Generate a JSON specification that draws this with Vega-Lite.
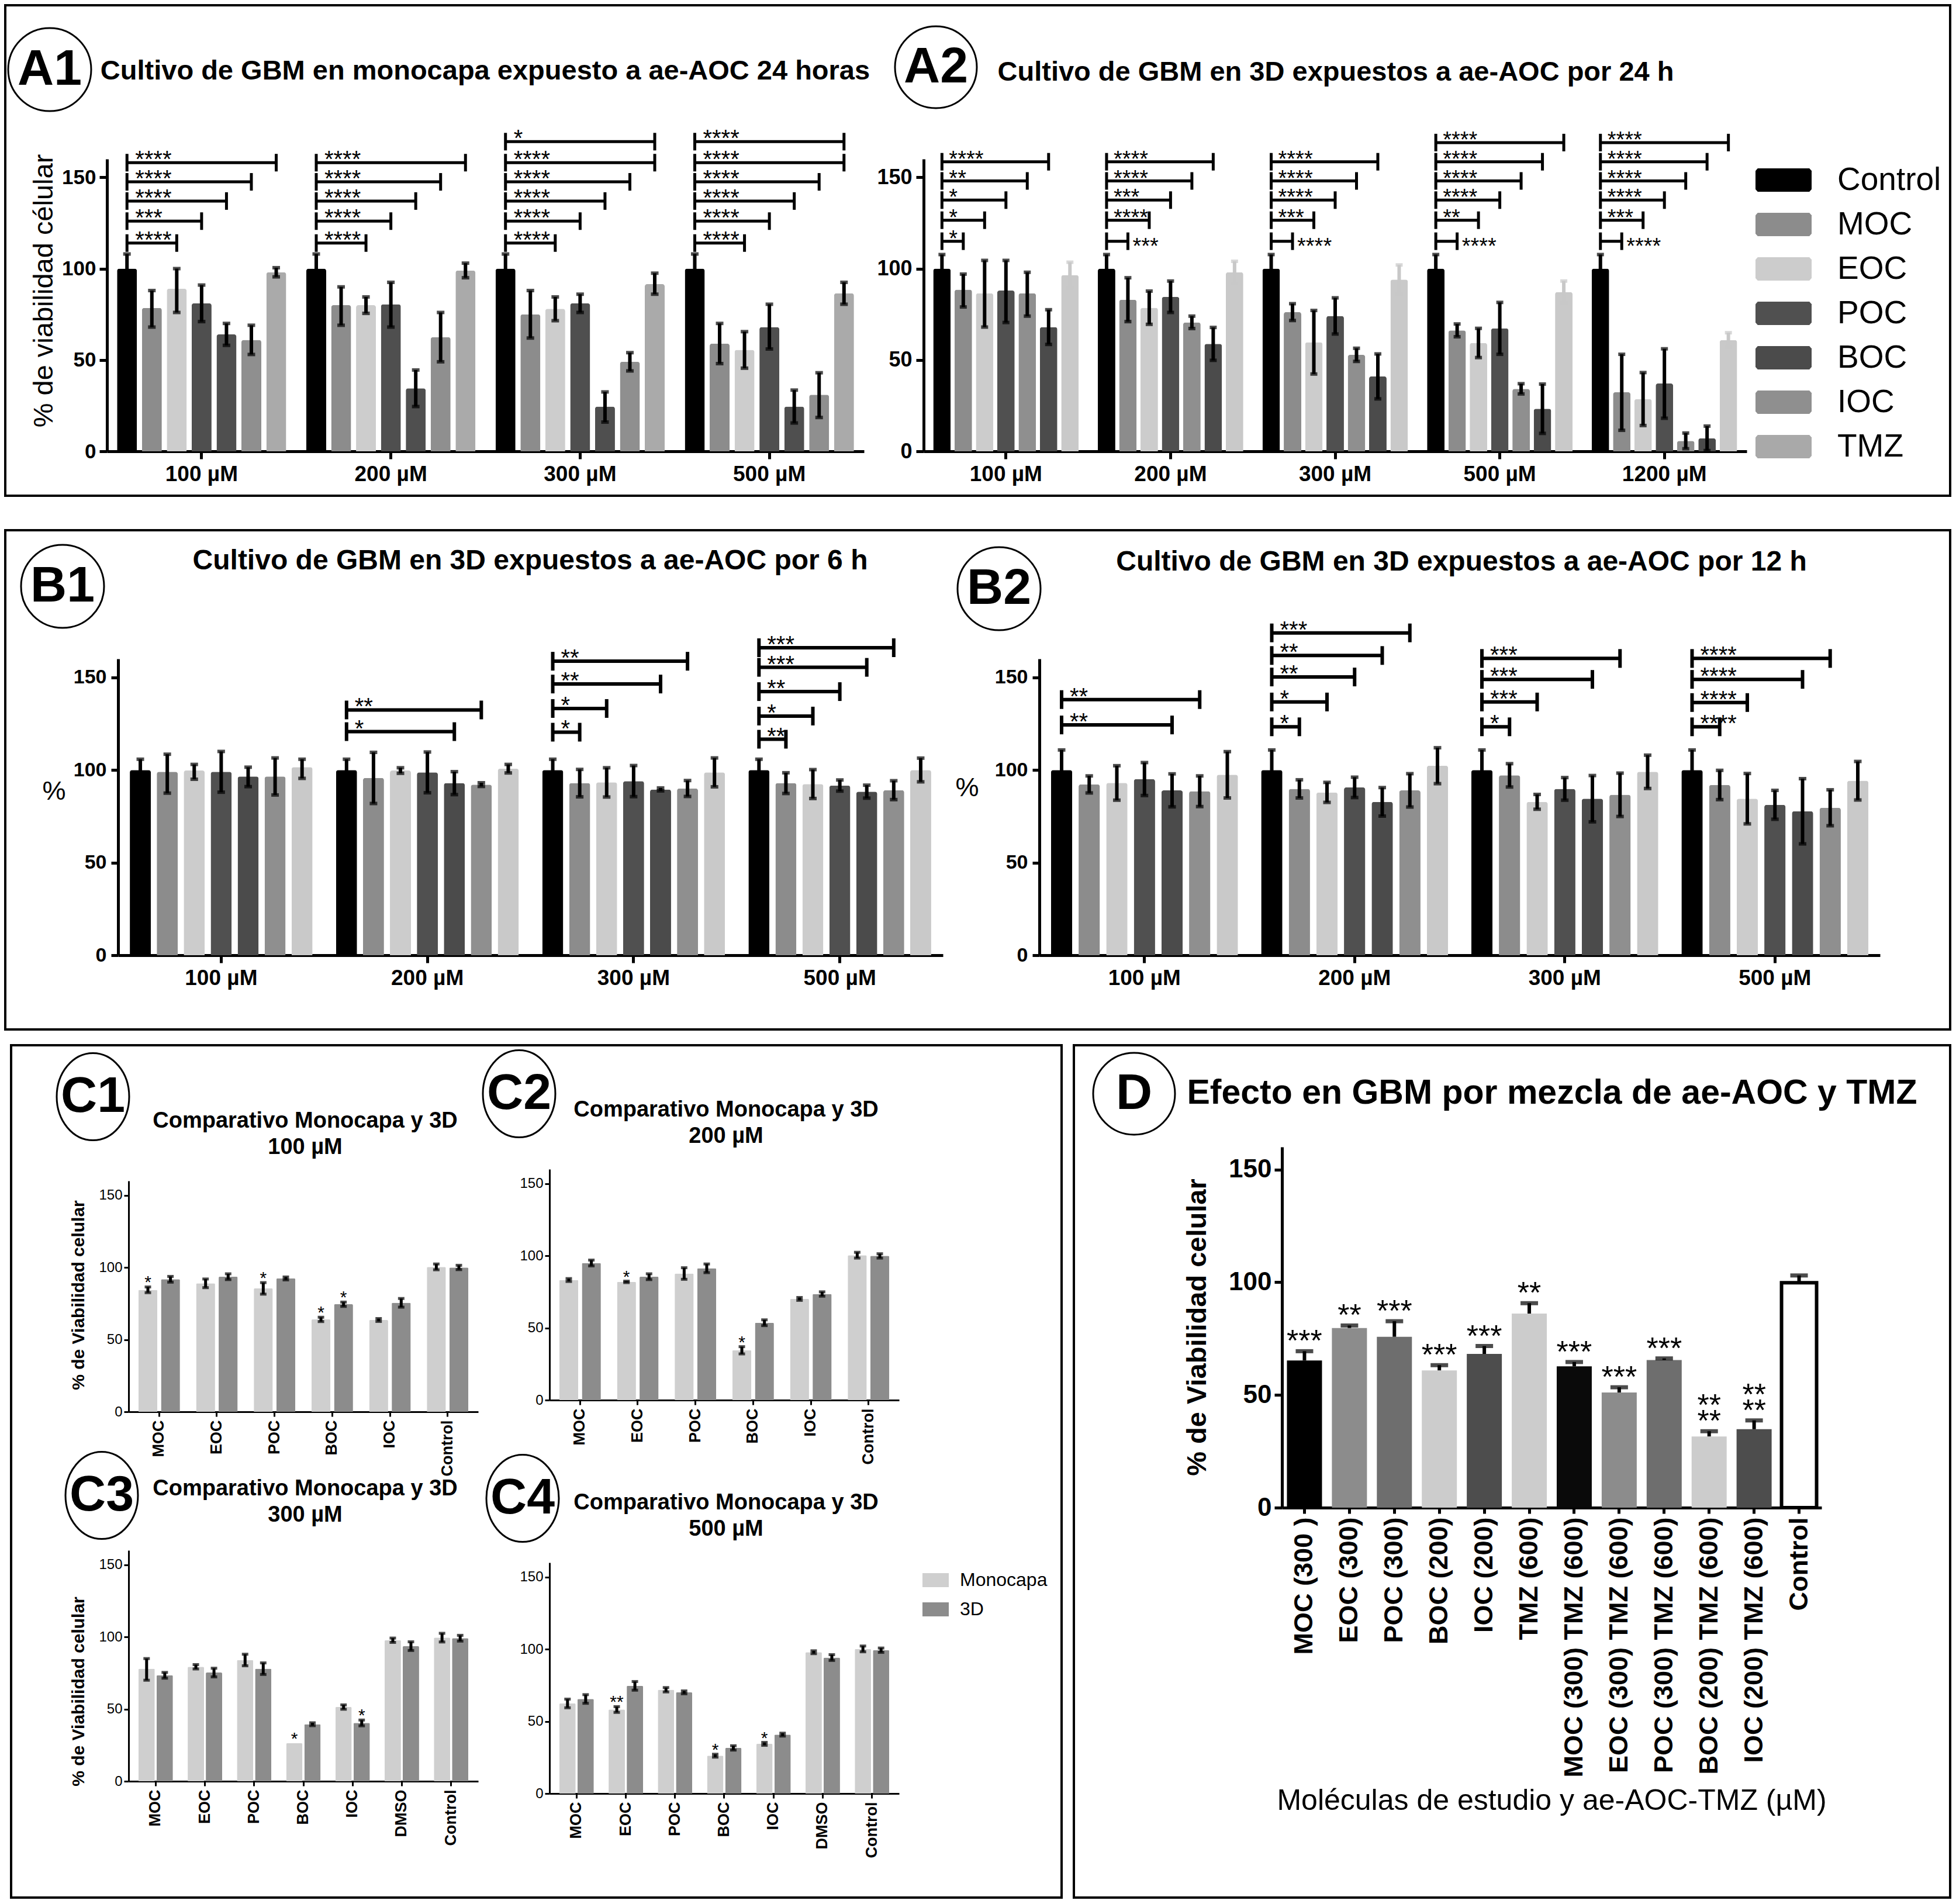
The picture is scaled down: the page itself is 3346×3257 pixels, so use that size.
{
"$schema":"https://vega.github.io/schema/vega-lite/v6.json",
"background":"white",
"autosize":{"type":"none"},
"padding":0,
"width":3346,
"height":3257,
"config":{"font":"Liberation Sans","view":{"stroke":null},
"axis":{"grid":false,"domainColor":"black","tickColor":"black","labelColor":"black","titleColor":"black","labelFont":"Liberation Sans","titleFont":"Liberation Sans","labelOverlap":false},
"legend":{"labelColor":"black","labelFont":"Liberation Sans"},
"text":{"color":"black","font":"Liberation Sans"}},
"datasets":{
"A1":[
{"g":"100 µM","s":"Control","v":100,"lo":92,"hi":108},{"g":"100 µM","s":"MOC","v":78.5,"lo":68,"hi":88},{"g":"100 µM","s":"EOC","v":89,"lo":76,"hi":100},{"g":"100 µM","s":"POC","v":81,"lo":71,"hi":91},{"g":"100 µM","s":"BOC","v":64,"lo":58,"hi":70},{"g":"100 µM","s":"IOC","v":61,"lo":53,"hi":69},{"g":"100 µM","s":"TMZ","v":98,"lo":95.5,"hi":100.5},
{"g":"200 µM","s":"Control","v":100,"lo":92,"hi":108},{"g":"200 µM","s":"MOC","v":80,"lo":69,"hi":90},{"g":"200 µM","s":"EOC","v":80,"lo":75.5,"hi":84.5},{"g":"200 µM","s":"POC","v":80.5,"lo":68,"hi":92.5},{"g":"200 µM","s":"BOC","v":34.5,"lo":24.5,"hi":44.5},{"g":"200 µM","s":"IOC","v":62.5,"lo":49,"hi":76},{"g":"200 µM","s":"TMZ","v":99,"lo":95,"hi":103},
{"g":"300 µM","s":"Control","v":100,"lo":92,"hi":108},{"g":"300 µM","s":"MOC","v":75,"lo":62,"hi":88},{"g":"300 µM","s":"EOC","v":78,"lo":71.5,"hi":84.5},{"g":"300 µM","s":"POC","v":81,"lo":76,"hi":86},{"g":"300 µM","s":"BOC","v":24.5,"lo":16,"hi":32.5},{"g":"300 µM","s":"IOC","v":49,"lo":44,"hi":54},{"g":"300 µM","s":"TMZ","v":91.5,"lo":86,"hi":97.5},
{"g":"500 µM","s":"Control","v":100,"lo":92,"hi":108},{"g":"500 µM","s":"MOC","v":59,"lo":48,"hi":70},{"g":"500 µM","s":"EOC","v":55.5,"lo":45.5,"hi":65.5},{"g":"500 µM","s":"POC","v":68,"lo":56,"hi":80.5},{"g":"500 µM","s":"BOC","v":24.5,"lo":15.5,"hi":33.5},{"g":"500 µM","s":"IOC","v":31,"lo":18.5,"hi":43},{"g":"500 µM","s":"TMZ","v":86.5,"lo":80.5,"hi":92.5}],
"A1br":[
{"g":"100 µM","f":"Control","to":"EOC","lvl":114,"sig":"****"},{"g":"100 µM","f":"Control","to":"POC","lvl":126,"sig":"***"},{"g":"100 µM","f":"Control","to":"BOC","lvl":137,"sig":"****"},{"g":"100 µM","f":"Control","to":"IOC","lvl":147.5,"sig":"****"},{"g":"100 µM","f":"Control","to":"TMZ","lvl":158,"sig":"****"},
{"g":"200 µM","f":"Control","to":"EOC","lvl":114,"sig":"****"},{"g":"200 µM","f":"Control","to":"POC","lvl":126,"sig":"****"},{"g":"200 µM","f":"Control","to":"BOC","lvl":137,"sig":"****"},{"g":"200 µM","f":"Control","to":"IOC","lvl":147.5,"sig":"****"},{"g":"200 µM","f":"Control","to":"TMZ","lvl":158,"sig":"****"},
{"g":"300 µM","f":"Control","to":"EOC","lvl":114,"sig":"****"},{"g":"300 µM","f":"Control","to":"POC","lvl":126,"sig":"****"},{"g":"300 µM","f":"Control","to":"BOC","lvl":137,"sig":"****"},{"g":"300 µM","f":"Control","to":"IOC","lvl":147.5,"sig":"****"},{"g":"300 µM","f":"Control","to":"TMZ","lvl":158,"sig":"****"},{"g":"300 µM","f":"Control","to":"TMZ","lvl":169.5,"sig":"*"},
{"g":"500 µM","f":"Control","to":"EOC","lvl":114,"sig":"****"},{"g":"500 µM","f":"Control","to":"POC","lvl":126,"sig":"****"},{"g":"500 µM","f":"Control","to":"BOC","lvl":137,"sig":"****"},{"g":"500 µM","f":"Control","to":"IOC","lvl":147.5,"sig":"****"},{"g":"500 µM","f":"Control","to":"TMZ","lvl":158,"sig":"****"},{"g":"500 µM","f":"Control","to":"TMZ","lvl":169.5,"sig":"****"}],
"A2":[
{"g":"100 µM","s":"Control","v":100,"lo":92.3,"hi":107.7},{"g":"100 µM","s":"MOC","v":88.5,"lo":79,"hi":97},{"g":"100 µM","s":"EOC","v":86.5,"lo":68,"hi":104.5},{"g":"100 µM","s":"POC","v":88,"lo":70.5,"hi":104.5},{"g":"100 µM","s":"BOC","v":86.5,"lo":74,"hi":98},{"g":"100 µM","s":"IOC","v":68,"lo":58.5,"hi":77.5},{"g":"100 µM","s":"TMZ","v":96.5,"lo":89.5,"hi":103.5},
{"g":"200 µM","s":"Control","v":100,"lo":92.3,"hi":107.7},{"g":"200 µM","s":"MOC","v":83,"lo":71,"hi":95},{"g":"200 µM","s":"EOC","v":78.6,"lo":69.5,"hi":87.7},{"g":"200 µM","s":"POC","v":84.6,"lo":76,"hi":93.2},{"g":"200 µM","s":"BOC","v":70.6,"lo":67.2,"hi":74},{"g":"200 µM","s":"IOC","v":58.8,"lo":49.8,"hi":67.8},{"g":"200 µM","s":"TMZ","v":98,"lo":92,"hi":104},
{"g":"300 µM","s":"Control","v":100,"lo":92.3,"hi":107.7},{"g":"300 µM","s":"MOC","v":76.2,"lo":71.6,"hi":80.8},{"g":"300 µM","s":"EOC","v":59.7,"lo":42.3,"hi":77.1},{"g":"300 µM","s":"POC","v":74.1,"lo":64.2,"hi":84},{"g":"300 µM","s":"BOC","v":52.8,"lo":49.2,"hi":56.4},{"g":"300 µM","s":"IOC","v":41,"lo":28.7,"hi":53.3},{"g":"300 µM","s":"TMZ","v":94,"lo":86,"hi":102},
{"g":"500 µM","s":"Control","v":100,"lo":92.3,"hi":107.7},{"g":"500 µM","s":"MOC","v":66.2,"lo":62.7,"hi":69.7},{"g":"500 µM","s":"EOC","v":59.3,"lo":51.3,"hi":67.3},{"g":"500 µM","s":"POC","v":67.3,"lo":53.1,"hi":81.5},{"g":"500 µM","s":"BOC","v":34.2,"lo":31.4,"hi":37},{"g":"500 µM","s":"IOC","v":23.3,"lo":9.8,"hi":36.8},{"g":"500 µM","s":"TMZ","v":87.2,"lo":81.2,"hi":93.2},
{"g":"1200 µM","s":"Control","v":100,"lo":92.3,"hi":107.7},{"g":"1200 µM","s":"MOC","v":32.3,"lo":11.5,"hi":53.1},{"g":"1200 µM","s":"EOC","v":28.6,"lo":14.1,"hi":43.1},{"g":"1200 µM","s":"POC","v":37.1,"lo":18.1,"hi":56.1},{"g":"1200 µM","s":"BOC","v":5.7,"lo":1.4,"hi":10},{"g":"1200 µM","s":"IOC","v":7.1,"lo":0.4,"hi":13.8},{"g":"1200 µM","s":"TMZ","v":60.9,"lo":56.9,"hi":64.9}],
"A2br":[
{"g":"100 µM","f":"Control","to":"MOC","lvl":115,"sig":"*"},{"g":"100 µM","f":"Control","to":"EOC","lvl":126.5,"sig":"*"},{"g":"100 µM","f":"Control","to":"POC","lvl":137.5,"sig":"*"},{"g":"100 µM","f":"Control","to":"BOC","lvl":148,"sig":"**"},{"g":"100 µM","f":"Control","to":"IOC","lvl":158.5,"sig":"****"},
{"g":"200 µM","f":"Control","to":"MOC","lvl":115,"sig":"***"},{"g":"200 µM","f":"Control","to":"EOC","lvl":126.5,"sig":"****"},{"g":"200 µM","f":"Control","to":"POC","lvl":137.5,"sig":"***"},{"g":"200 µM","f":"Control","to":"BOC","lvl":148,"sig":"****"},{"g":"200 µM","f":"Control","to":"IOC","lvl":158.5,"sig":"****"},
{"g":"300 µM","f":"Control","to":"MOC","lvl":115,"sig":"****"},{"g":"300 µM","f":"Control","to":"EOC","lvl":126.5,"sig":"***"},{"g":"300 µM","f":"Control","to":"POC","lvl":137.5,"sig":"****"},{"g":"300 µM","f":"Control","to":"BOC","lvl":148,"sig":"****"},{"g":"300 µM","f":"Control","to":"IOC","lvl":158.5,"sig":"****"},
{"g":"500 µM","f":"Control","to":"MOC","lvl":115,"sig":"****"},{"g":"500 µM","f":"Control","to":"EOC","lvl":126.5,"sig":"**"},{"g":"500 µM","f":"Control","to":"POC","lvl":137.5,"sig":"****"},{"g":"500 µM","f":"Control","to":"BOC","lvl":148,"sig":"****"},{"g":"500 µM","f":"Control","to":"IOC","lvl":158.5,"sig":"****"},{"g":"500 µM","f":"Control","to":"TMZ","lvl":169,"sig":"****"},
{"g":"1200 µM","f":"Control","to":"MOC","lvl":115,"sig":"****"},{"g":"1200 µM","f":"Control","to":"EOC","lvl":126.5,"sig":"***"},{"g":"1200 µM","f":"Control","to":"POC","lvl":137.5,"sig":"****"},{"g":"1200 µM","f":"Control","to":"BOC","lvl":148,"sig":"****"},{"g":"1200 µM","f":"Control","to":"IOC","lvl":158.5,"sig":"****"},{"g":"1200 µM","f":"Control","to":"TMZ","lvl":169,"sig":"****"}],
"B1":[
{"g":"100 µM","s":"Control","v":100,"lo":94.2,"hi":105.8},{"g":"100 µM","s":"MOC","v":99,"lo":87.5,"hi":108.5},{"g":"100 µM","s":"EOC","v":99.7,"lo":95,"hi":103},{"g":"100 µM","s":"POC","v":99,"lo":88,"hi":110},{"g":"100 µM","s":"BOC","v":96.5,"lo":91,"hi":101.5},{"g":"100 µM","s":"IOC","v":96.5,"lo":86.5,"hi":106.5},{"g":"100 µM","s":"TMZ","v":101.5,"lo":95.5,"hi":105.8},
{"g":"200 µM","s":"Control","v":100,"lo":94.2,"hi":105.8},{"g":"200 µM","s":"MOC","v":95.7,"lo":81.9,"hi":109.5},{"g":"200 µM","s":"EOC","v":99.7,"lo":98.2,"hi":101.2},{"g":"200 µM","s":"POC","v":98.7,"lo":87.7,"hi":109.7},{"g":"200 µM","s":"BOC","v":92.9,"lo":86.7,"hi":99.1},{"g":"200 µM","s":"IOC","v":92.1,"lo":91.1,"hi":93.1},{"g":"200 µM","s":"TMZ","v":100.7,"lo":98.4,"hi":103},
{"g":"300 µM","s":"Control","v":100,"lo":94.2,"hi":105.8},{"g":"300 µM","s":"MOC","v":92.9,"lo":85.5,"hi":100.3},{"g":"300 µM","s":"EOC","v":93.3,"lo":85.4,"hi":101.2},{"g":"300 µM","s":"POC","v":94,"lo":85.6,"hi":102.4},{"g":"300 µM","s":"BOC","v":89.5,"lo":88.7,"hi":90.3},{"g":"300 µM","s":"IOC","v":90,"lo":85.7,"hi":94.3},{"g":"300 µM","s":"TMZ","v":98.7,"lo":90.9,"hi":106.5},
{"g":"500 µM","s":"Control","v":100,"lo":94.2,"hi":105.8},{"g":"500 µM","s":"MOC","v":92.9,"lo":87.3,"hi":98.5},{"g":"500 µM","s":"EOC","v":92.4,"lo":84.6,"hi":100.2},{"g":"500 µM","s":"POC","v":91.6,"lo":88.6,"hi":94.6},{"g":"500 µM","s":"BOC","v":88.3,"lo":84.8,"hi":91.8},{"g":"500 µM","s":"IOC","v":89.1,"lo":84,"hi":94.2},{"g":"500 µM","s":"TMZ","v":100,"lo":93.6,"hi":106.4}],
"B1br":[
{"g":"200 µM","f":"Control","to":"BOC","lvl":120.7,"sig":"*"},{"g":"200 µM","f":"Control","to":"IOC","lvl":132.4,"sig":"**"},
{"g":"300 µM","f":"Control","to":"MOC","lvl":120.4,"sig":"*"},{"g":"300 µM","f":"Control","to":"EOC","lvl":133.2,"sig":"*"},{"g":"300 µM","f":"Control","to":"BOC","lvl":146.4,"sig":"**"},{"g":"300 µM","f":"Control","to":"IOC","lvl":158.7,"sig":"**"},
{"g":"500 µM","f":"Control","to":"MOC","lvl":116.6,"sig":"**"},{"g":"500 µM","f":"Control","to":"EOC","lvl":129.1,"sig":"*"},{"g":"500 µM","f":"Control","to":"POC","lvl":142.3,"sig":"**"},{"g":"500 µM","f":"Control","to":"BOC","lvl":155.4,"sig":"***"},{"g":"500 µM","f":"Control","to":"IOC","lvl":166,"sig":"***"}],
"B2":[
{"g":"100 µM","s":"Control","v":100,"lo":89.2,"hi":110.8},{"g":"100 µM","s":"MOC","v":92.2,"lo":87.6,"hi":96.8},{"g":"100 µM","s":"EOC","v":93,"lo":83.7,"hi":102.3},{"g":"100 µM","s":"POC","v":95.1,"lo":86.2,"hi":104},{"g":"100 µM","s":"BOC","v":89,"lo":80.1,"hi":97.9},{"g":"100 µM","s":"IOC","v":88.5,"lo":80.2,"hi":96.8},{"g":"100 µM","s":"TMZ","v":97.4,"lo":84.9,"hi":109.9},
{"g":"200 µM","s":"Control","v":100,"lo":89.2,"hi":110.8},{"g":"200 µM","s":"MOC","v":89.8,"lo":84.9,"hi":94.7},{"g":"200 µM","s":"EOC","v":87.9,"lo":82.5,"hi":93.3},{"g":"200 µM","s":"POC","v":90.6,"lo":85.1,"hi":96.1},{"g":"200 µM","s":"BOC","v":82.8,"lo":75.1,"hi":90.5},{"g":"200 µM","s":"IOC","v":89,"lo":80,"hi":98},{"g":"200 µM","s":"TMZ","v":102.3,"lo":92.6,"hi":112},
{"g":"300 µM","s":"Control","v":100,"lo":89.2,"hi":110.8},{"g":"300 µM","s":"MOC","v":97.1,"lo":90.8,"hi":103.4},{"g":"300 µM","s":"EOC","v":82.8,"lo":78.8,"hi":86.8},{"g":"300 µM","s":"POC","v":89.8,"lo":83.7,"hi":95.9},{"g":"300 µM","s":"BOC","v":84.5,"lo":72,"hi":97},{"g":"300 µM","s":"IOC","v":86.6,"lo":74.9,"hi":98.3},{"g":"300 µM","s":"TMZ","v":99,"lo":90,"hi":108},
{"g":"500 µM","s":"Control","v":100,"lo":89.2,"hi":110.8},{"g":"500 µM","s":"MOC","v":91.9,"lo":84,"hi":99.8},{"g":"500 µM","s":"EOC","v":84.5,"lo":70.9,"hi":98.1},{"g":"500 µM","s":"POC","v":81.2,"lo":73.4,"hi":89},{"g":"500 µM","s":"BOC","v":77.7,"lo":60.1,"hi":95.3},{"g":"500 µM","s":"IOC","v":79.6,"lo":69.9,"hi":89.3},{"g":"500 µM","s":"TMZ","v":94.2,"lo":83.8,"hi":104.6}],
"B2br":[
{"g":"100 µM","f":"Control","to":"BOC","lvl":124.3,"sig":"**"},{"g":"100 µM","f":"Control","to":"IOC","lvl":138,"sig":"**"},
{"g":"200 µM","f":"Control","to":"MOC","lvl":123.3,"sig":"*"},{"g":"200 µM","f":"Control","to":"EOC","lvl":136.7,"sig":"*"},{"g":"200 µM","f":"Control","to":"POC","lvl":150.2,"sig":"**"},{"g":"200 µM","f":"Control","to":"BOC","lvl":161.8,"sig":"**"},{"g":"200 µM","f":"Control","to":"IOC","lvl":174,"sig":"***"},
{"g":"300 µM","f":"Control","to":"MOC","lvl":123.3,"sig":"*"},{"g":"300 µM","f":"Control","to":"EOC","lvl":136.7,"sig":"***"},{"g":"300 µM","f":"Control","to":"BOC","lvl":148.9,"sig":"***"},{"g":"300 µM","f":"Control","to":"IOC","lvl":160.2,"sig":"***"},
{"g":"500 µM","f":"Control","to":"MOC","lvl":123.3,"sig":"****"},{"g":"500 µM","f":"Control","to":"EOC","lvl":136.4,"sig":"****"},{"g":"500 µM","f":"Control","to":"BOC","lvl":148.9,"sig":"****"},{"g":"500 µM","f":"Control","to":"IOC","lvl":160.2,"sig":"****"}],
"C1":[
{"c":"MOC","k":"Monocapa","v":84.5,"lo":82.5,"hi":86.5,"sig":"*"},{"c":"MOC","k":"3D","v":91.8,"lo":89.8,"hi":93.8},{"c":"EOC","k":"Monocapa","v":89,"lo":86,"hi":92},{"c":"EOC","k":"3D","v":93.6,"lo":91.6,"hi":95.6},{"c":"POC","k":"Monocapa","v":85.5,"lo":81.5,"hi":89.5,"sig":"*"},{"c":"POC","k":"3D","v":92.4,"lo":91.4,"hi":93.4},{"c":"BOC","k":"Monocapa","v":64,"lo":62.5,"hi":65.5,"sig":"*"},{"c":"BOC","k":"3D","v":74.5,"lo":73,"hi":76,"sig":"*"},{"c":"IOC","k":"Monocapa","v":63.6,"lo":62.6,"hi":64.6},{"c":"IOC","k":"3D","v":75.5,"lo":72.5,"hi":78.5},{"c":"Control","k":"Monocapa","v":100.4,"lo":98.4,"hi":102.4},{"c":"Control","k":"3D","v":100,"lo":98.5,"hi":101.5}],
"C2":[
{"c":"MOC","k":"Monocapa","v":83.2,"lo":82.2,"hi":84.2},{"c":"MOC","k":"3D","v":95,"lo":93,"hi":97},{"c":"EOC","k":"Monocapa","v":81.9,"lo":81.4,"hi":82.4,"sig":"*"},{"c":"EOC","k":"3D","v":85.5,"lo":83.5,"hi":87.5},{"c":"POC","k":"Monocapa","v":87.7,"lo":83.7,"hi":91.7},{"c":"POC","k":"3D","v":91.3,"lo":88.3,"hi":94.3},{"c":"BOC","k":"Monocapa","v":34.5,"lo":32,"hi":37,"sig":"*"},{"c":"BOC","k":"3D","v":53.6,"lo":51.6,"hi":55.6},{"c":"IOC","k":"Monocapa","v":70.1,"lo":69.1,"hi":71.1},{"c":"IOC","k":"3D","v":73.5,"lo":72,"hi":75},{"c":"Control","k":"Monocapa","v":100.4,"lo":98.4,"hi":102.4},{"c":"Control","k":"3D","v":99.9,"lo":98.4,"hi":101.4}],
"C3":[
{"c":"MOC","k":"Monocapa","v":78,"lo":70,"hi":85},{"c":"MOC","k":"3D","v":73.4,"lo":71.4,"hi":75.4},{"c":"EOC","k":"Monocapa","v":79.3,"lo":77.8,"hi":80.8},{"c":"EOC","k":"3D","v":75.3,"lo":72.3,"hi":78.3},{"c":"POC","k":"Monocapa","v":84,"lo":80,"hi":88},{"c":"POC","k":"3D","v":78,"lo":74,"hi":82},{"c":"BOC","k":"Monocapa","v":26.3,"lo":26.3,"hi":26.3,"sig":"*"},{"c":"BOC","k":"3D","v":39.5,"lo":38.5,"hi":40.5},{"c":"IOC","k":"Monocapa","v":51.4,"lo":49.9,"hi":52.9},{"c":"IOC","k":"3D","v":40.4,"lo":38.4,"hi":42.4,"sig":"*"},{"c":"DMSO","k":"Monocapa","v":97.7,"lo":96.2,"hi":99.2},{"c":"DMSO","k":"3D","v":93.6,"lo":90.6,"hi":96.6},{"c":"Control","k":"Monocapa","v":99.5,"lo":96.5,"hi":102.5},{"c":"Control","k":"3D","v":99.1,"lo":97.1,"hi":101.1}],
"C4":[
{"c":"MOC","k":"Monocapa","v":62.4,"lo":59.4,"hi":65.4},{"c":"MOC","k":"3D","v":65.5,"lo":62.5,"hi":68.5},{"c":"EOC","k":"Monocapa","v":58.2,"lo":56.2,"hi":60.2,"sig":"**"},{"c":"EOC","k":"3D","v":74.6,"lo":71.6,"hi":77.6},{"c":"POC","k":"Monocapa","v":71.9,"lo":70.4,"hi":73.4},{"c":"POC","k":"3D","v":70.1,"lo":69.1,"hi":71.1},{"c":"BOC","k":"Monocapa","v":26.2,"lo":25.2,"hi":27.2,"sig":"*"},{"c":"BOC","k":"3D","v":31.6,"lo":30.1,"hi":33.1},{"c":"IOC","k":"Monocapa","v":34.4,"lo":33.4,"hi":35.4,"sig":"*"},{"c":"IOC","k":"3D","v":40.8,"lo":39.8,"hi":41.8},{"c":"DMSO","k":"Monocapa","v":97.9,"lo":96.9,"hi":98.9},{"c":"DMSO","k":"3D","v":94.2,"lo":92.2,"hi":96.2},{"c":"Control","k":"Monocapa","v":100.2,"lo":98.2,"hi":102.2},{"c":"Control","k":"3D","v":99.3,"lo":97.8,"hi":100.8}],
"D":[
{"c":"MOC (300 )","v":65.3,"hi":69.4,"sig":"***"},{"c":"EOC (300)","v":79.7,"hi":80.8,"sig":"**"},{"c":"POC (300)","v":75.8,"hi":82.7,"sig":"***"},{"c":"BOC (200)","v":60.9,"hi":63.2,"sig":"***"},{"c":"IOC (200)","v":68.2,"hi":71.7,"sig":"***"},{"c":"TMZ (600)","v":86.1,"hi":90.7,"sig":"**"},{"c":"MOC (300) TMZ (600)","v":62.7,"hi":64.6,"sig":"***"},{"c":"EOC (300) TMZ (600)","v":51.1,"hi":53.4,"sig":"***"},{"c":"POC (300) TMZ (600)","v":65.5,"hi":66.2,"sig":"***"},{"c":"BOC (200) TMZ (600)","v":31.6,"hi":33.9,"sig":"**","sig2":"**"},{"c":"IOC (200) TMZ (600)","v":34.8,"hi":38.7,"sig":"**","sig2":"**"},{"c":"Control","v":99.8,"hi":103,"sig":""}]
},
"resolve":{"scale":{"x":"independent","y":"independent","xOffset":"independent","color":"independent"},"axis":{"x":"independent","y":"independent"},"legend":{"color":"independent"}},
"layer":[
{"resolve":{"scale":{"x":"independent","y":"independent"},"axis":{"x":"independent","y":"independent"}},
"layer":[
{"layer":[
{"data":{"name":"A1"},"mark":{"type":"bar","cornerRadiusEnd":4},"encoding":{
"x":{"field":"g","type":"nominal","sort":null,"scale":{"domain":["100 µM","200 µM","300 µM","500 µM"],"range":[183,1478],"paddingInner":0.08,"paddingOuter":0.04},"axis":{"orient":"bottom","offset":-2485,"title":null,"labelAngle":0,"labelFontSize":37,"labelFontWeight":"bold","labelPadding":8,"tickSize":13,"tickWidth":5,"domainWidth":5}},
"xOffset":{"field":"s","type":"nominal","sort":null,"scale":{"domain":["Control","MOC","EOC","POC","BOC","IOC","TMZ"],"paddingInner":0.2,"paddingOuter":0.1}},
"y":{"field":"v","type":"quantitative","scale":{"domain":[0,150],"range":[772,272]},"axis":{"orient":"left","offset":-183,"values":[0,50,100,150],"labelFontSize":35,"labelFontWeight":"bold","labelPadding":6,"tickSize":13,"tickWidth":5,"domainWidth":5,"labelFlush":false,"title":"% de viabilidad célular","titleFontSize":47,"titleFontWeight":"normal","titleX":-108,"titleY":497,"titleAlign":"center","titleBaseline":"middle"}},
"color":{"field":"s","type":"nominal","scale":{"domain":["Control","MOC","EOC","POC","BOC","IOC","TMZ"],"range":["#000000","#8c8c8c","#cdcdcd","#4f4f4f","#4f4f4f","#8f8f8f","#aaaaaa"]},"legend":null}}},
{"data":{"name":"A1"},"mark":{"type":"rule","strokeWidth":6,"color":"black"},"encoding":{"x":{"field":"g","type":"nominal"},"xOffset":{"field":"s","type":"nominal"},"y":{"field":"lo","type":"quantitative"},"y2":{"field":"hi"}}},
{"data":{"name":"A1"},"mark":{"type":"tick","size":13,"thickness":6,"color":"black"},"encoding":{"x":{"field":"g","type":"nominal"},"xOffset":{"field":"s","type":"nominal"},"y":{"field":"hi","type":"quantitative"}}},
{"data":{"name":"A1"},"mark":{"type":"tick","size":13,"thickness":6,"color":"black"},"encoding":{"x":{"field":"g","type":"nominal"},"xOffset":{"field":"s","type":"nominal"},"y":{"field":"lo","type":"quantitative"}}},
{"data":{"name":"A1br"},"transform":[{"fold":["f","to"],"as":["end","s"]}],"layer":[
{"mark":{"type":"line","color":"black","strokeWidth":5,"strokeCap":"butt"},"encoding":{"x":{"field":"g","type":"nominal"},"xOffset":{"field":"s","type":"nominal"},"y":{"field":"lvl","type":"quantitative"},"detail":[{"field":"g","type":"nominal"},{"field":"lvl","type":"quantitative"}]}},
{"mark":{"type":"rule","color":"black","strokeWidth":5,"yOffset":-15,"y2Offset":15},"encoding":{"x":{"field":"g","type":"nominal"},"xOffset":{"field":"s","type":"nominal"},"y":{"field":"lvl","type":"quantitative"},"y2":{"field":"lvl"}}},
{"transform":[{"filter":{"field":"end","equal":"f"}}],"mark":{"type":"text","align":"left","baseline":"alphabetic","dx":14,"dy":8,"fontSize":40},"encoding":{"x":{"field":"g","type":"nominal"},"xOffset":{"field":"s","type":"nominal"},"y":{"field":"lvl","type":"quantitative"},"text":{"field":"sig"}}}]}
]},
{"data":{"values":[{}]},"layer":[
{"mark":{"type":"rect","filled":false,"color":"black","strokeWidth":4},"encoding":{"x":{"datum":-0.13436,"type":"quantitative","scale":{"domain":[0,1],"range":[183,1478]},"axis":null},"x2":{"datum":2.43475},"y":{"datum":1.526,"type":"quantitative","scale":{"domain":[0,1],"range":[772,272]},"axis":null},"y2":{"datum":-0.152}}},
{"mark":{"type":"point","shape":"circle","size":20164,"filled":false,"color":"black","strokeWidth":3,"opacity":1},"encoding":{"x":{"datum":-0.07568,"type":"quantitative","scale":{"domain":[0,1],"range":[183,1478]},"axis":null},"y":{"datum":1.306,"type":"quantitative","scale":{"domain":[0,1],"range":[772,272]},"axis":null}}},
{"mark":{"type":"text","text":"A1","fontSize":86,"fontWeight":"bold"},"encoding":{"x":{"datum":-0.07568,"type":"quantitative","scale":{"domain":[0,1],"range":[183,1478]},"axis":null},"y":{"datum":1.306,"type":"quantitative","scale":{"domain":[0,1],"range":[772,272]},"axis":null}}},
{"mark":{"type":"text","text":"Cultivo de GBM en monocapa expuesto a ae-AOC 24 horas","fontSize":47,"fontWeight":"bold"},"encoding":{"x":{"datum":0.49961,"type":"quantitative","scale":{"domain":[0,1],"range":[183,1478]},"axis":null},"y":{"datum":1.3,"type":"quantitative","scale":{"domain":[0,1],"range":[772,272]},"axis":null}}}
]}
]},
{"resolve":{"scale":{"x":"independent","y":"independent","color":"independent"},"axis":{"x":"independent","y":"independent"},"legend":{"color":"independent"}},
"layer":[
{"layer":[
{"data":{"name":"A2"},"mark":{"type":"bar","cornerRadiusEnd":4},"encoding":{
"x":{"field":"g","type":"nominal","sort":null,"scale":{"domain":["100 µM","200 µM","300 µM","500 µM","1200 µM"],"range":[1580,2988],"paddingInner":0.093,"paddingOuter":0.0465},"axis":{"orient":"bottom","offset":-2485,"title":null,"labelAngle":0,"labelFontSize":37,"labelFontWeight":"bold","labelPadding":8,"tickSize":13,"tickWidth":5,"domainWidth":5}},
"xOffset":{"field":"s","type":"nominal","sort":null,"scale":{"domain":["Control","MOC","EOC","POC","BOC","IOC","TMZ"],"paddingInner":0.18,"paddingOuter":0.09}},
"y":{"field":"v","type":"quantitative","scale":{"domain":[0,150],"range":[772,272]},"axis":{"orient":"left","offset":-1580,"values":[0,50,100,150],"labelFontSize":36,"labelFontWeight":"bold","labelPadding":7,"tickSize":13,"tickWidth":5,"domainWidth":5,"labelFlush":false,"title":null}},
"color":{"field":"s","type":"nominal","scale":{"domain":["Control","MOC","EOC","POC","BOC","IOC","TMZ"],"range":["#000000","#8c8c8c","#cccccc","#505050","#8f8f8f","#4b4b4b","#c9c9c9"]},"legend":null}}},
{"data":{"name":"A2"},"mark":{"type":"rule","strokeWidth":6},"encoding":{"x":{"field":"g","type":"nominal"},"xOffset":{"field":"s","type":"nominal"},"y":{"field":"lo","type":"quantitative"},"y2":{"field":"hi"},"color":{"condition":{"test":"datum.s === 'TMZ'","value":"#c8c8c8"},"value":"black"}}},
{"data":{"name":"A2"},"mark":{"type":"tick","size":12,"thickness":6},"encoding":{"x":{"field":"g","type":"nominal"},"xOffset":{"field":"s","type":"nominal"},"y":{"field":"hi","type":"quantitative"},"color":{"condition":{"test":"datum.s === 'TMZ'","value":"#c8c8c8"},"value":"black"}}},
{"data":{"name":"A2"},"mark":{"type":"tick","size":12,"thickness":6},"encoding":{"x":{"field":"g","type":"nominal"},"xOffset":{"field":"s","type":"nominal"},"y":{"field":"lo","type":"quantitative"},"color":{"condition":{"test":"datum.s === 'TMZ'","value":"#c8c8c8"},"value":"black"}}},
{"data":{"name":"A2br"},"transform":[{"fold":["f","to"],"as":["end","s"]}],"layer":[
{"mark":{"type":"line","color":"black","strokeWidth":5,"strokeCap":"butt"},"encoding":{"x":{"field":"g","type":"nominal"},"xOffset":{"field":"s","type":"nominal"},"y":{"field":"lvl","type":"quantitative"},"detail":[{"field":"g","type":"nominal"},{"field":"lvl","type":"quantitative"}]}},
{"mark":{"type":"rule","color":"black","strokeWidth":5,"yOffset":-15,"y2Offset":15},"encoding":{"x":{"field":"g","type":"nominal"},"xOffset":{"field":"s","type":"nominal"},"y":{"field":"lvl","type":"quantitative"},"y2":{"field":"lvl"}}},
{"transform":[{"filter":{"field":"end","equal":"f"}},{"filter":"!(datum.lvl < 120 && datum.g !== '100 µM')"}],"mark":{"type":"text","align":"left","baseline":"alphabetic","dx":12,"dy":8,"fontSize":38},"encoding":{"x":{"field":"g","type":"nominal"},"xOffset":{"field":"s","type":"nominal"},"y":{"field":"lvl","type":"quantitative"},"text":{"field":"sig"}}},
{"transform":[{"filter":{"field":"end","equal":"to"}},{"filter":"datum.lvl < 120 && datum.g !== '100 µM'"}],"mark":{"type":"text","align":"left","baseline":"middle","dx":8,"dy":10,"fontSize":38},"encoding":{"x":{"field":"g","type":"nominal"},"xOffset":{"field":"s","type":"nominal"},"y":{"field":"lvl","type":"quantitative"},"text":{"field":"sig"}}}]}
]},
{"data":{"values":[{}]},"layer":[
{"mark":{"type":"point","shape":"circle","size":19600,"filled":false,"color":"black","strokeWidth":3,"opacity":1},"encoding":{"x":{"datum":0.01491,"type":"quantitative","scale":{"domain":[0,1],"range":[1580,2988]},"axis":null},"y":{"datum":1.314,"type":"quantitative","scale":{"domain":[0,1],"range":[772,272]},"axis":null}}},
{"mark":{"type":"text","text":"A2","fontSize":86,"fontWeight":"bold"},"encoding":{"x":{"datum":0.01491,"type":"quantitative","scale":{"domain":[0,1],"range":[1580,2988]},"axis":null},"y":{"datum":1.314,"type":"quantitative","scale":{"domain":[0,1],"range":[772,272]},"axis":null}}},
{"mark":{"type":"text","text":"Cultivo de GBM en 3D expuestos a ae-AOC por 24 h","fontSize":47,"fontWeight":"bold"},"encoding":{"x":{"datum":0.50071,"type":"quantitative","scale":{"domain":[0,1],"range":[1580,2988]},"axis":null},"y":{"datum":1.296,"type":"quantitative","scale":{"domain":[0,1],"range":[772,272]},"axis":null}}},
{"data":{"name":"A2"},"mark":{"type":"point","filled":true,"opacity":0,"shape":"square"},"encoding":{"x":{"datum":0.5,"type":"quantitative","scale":{"domain":[0,1],"range":[1580,2988]},"axis":null},"y":{"datum":0.5,"type":"quantitative","scale":{"domain":[0,1],"range":[772,272]},"axis":null},"color":{"field":"s","type":"nominal","scale":{"domain":["Control","MOC","EOC","POC","BOC","IOC","TMZ"],"range":["#000000","#8c8c8c","#cccccc","#505050","#4b4b4b","#8f8f8f","#a9a9a9"]},"legend":{"orient":"none","legendX":2991,"legendY":271,"title":null,"padding":12,"symbolType":"M-0.92,-0.417L0.92,-0.417L1,-0.33L1,0.33L0.92,0.417L-0.92,0.417L-1,0.33L-1,-0.33Z","symbolSize":9216,"symbolStrokeWidth":0,"symbolOpacity":1,"symbolFillColor":null,"labelFontSize":55,"labelOffset":44,"clipHeight":50,"rowPadding":21,"labelLimit":0}}}}
]}
]},
{"resolve":{"scale":{"x":"independent","y":"independent"},"axis":{"x":"independent","y":"independent"}},
"layer":[
{"layer":[
{"data":{"name":"B1"},"mark":{"type":"bar","cornerRadiusEnd":4},"encoding":{
"x":{"field":"g","type":"nominal","sort":null,"scale":{"domain":["100 µM","200 µM","300 µM","500 µM"],"range":[202,1613],"paddingInner":0.085,"paddingOuter":0.0425},"axis":{"orient":"bottom","offset":-1623,"title":null,"labelAngle":0,"labelFontSize":37,"labelFontWeight":"bold","labelPadding":8,"tickSize":13,"tickWidth":5,"domainWidth":5}},
"xOffset":{"field":"s","type":"nominal","sort":null,"scale":{"domain":["Control","MOC","EOC","POC","BOC","IOC","TMZ"],"paddingInner":0.22,"paddingOuter":0.11}},
"y":{"field":"v","type":"quantitative","scale":{"domain":[0,150],"range":[1634,1127]},"axis":{"orient":"left","offset":-202,"values":[0,50,100,150],"labelFontSize":34,"labelFontWeight":"bold","labelPadding":8,"tickSize":12,"tickWidth":5,"domainWidth":5,"labelFlush":false,"title":"%","titleAngle":0,"titleFontSize":45,"titleFontWeight":"normal","titleX":-110,"titleY":1353,"titleAlign":"center","titleBaseline":"middle"}},
"color":{"field":"s","type":"nominal","scale":{"domain":["Control","MOC","EOC","POC","BOC","IOC","TMZ"],"range":["#000000","#8c8c8c","#cccccc","#505050","#4b4b4b","#8f8f8f","#c9c9c9"]},"legend":null}}},
{"data":{"name":"B1"},"mark":{"type":"rule","strokeWidth":6,"color":"black"},"encoding":{"x":{"field":"g","type":"nominal"},"xOffset":{"field":"s","type":"nominal"},"y":{"field":"lo","type":"quantitative"},"y2":{"field":"hi"}}},
{"data":{"name":"B1"},"mark":{"type":"tick","size":13,"thickness":6,"color":"black"},"encoding":{"x":{"field":"g","type":"nominal"},"xOffset":{"field":"s","type":"nominal"},"y":{"field":"hi","type":"quantitative"}}},
{"data":{"name":"B1"},"mark":{"type":"tick","size":13,"thickness":6,"color":"black"},"encoding":{"x":{"field":"g","type":"nominal"},"xOffset":{"field":"s","type":"nominal"},"y":{"field":"lo","type":"quantitative"}}},
{"data":{"name":"B1br"},"transform":[{"fold":["f","to"],"as":["end","s"]}],"layer":[
{"mark":{"type":"line","color":"black","strokeWidth":6,"strokeCap":"butt"},"encoding":{"x":{"field":"g","type":"nominal"},"xOffset":{"field":"s","type":"nominal"},"y":{"field":"lvl","type":"quantitative"},"detail":[{"field":"g","type":"nominal"},{"field":"lvl","type":"quantitative"}]}},
{"mark":{"type":"rule","color":"black","strokeWidth":6,"yOffset":-16,"y2Offset":16},"encoding":{"x":{"field":"g","type":"nominal"},"xOffset":{"field":"s","type":"nominal"},"y":{"field":"lvl","type":"quantitative"},"y2":{"field":"lvl"}}},
{"transform":[{"filter":{"field":"end","equal":"f"}}],"mark":{"type":"text","align":"left","baseline":"alphabetic","dx":14,"dy":8,"fontSize":40},"encoding":{"x":{"field":"g","type":"nominal"},"xOffset":{"field":"s","type":"nominal"},"y":{"field":"lvl","type":"quantitative"},"text":{"field":"sig"}}}]}
]},
{"data":{"values":[{}]},"layer":[
{"mark":{"type":"rect","filled":false,"color":"black","strokeWidth":4},"encoding":{"x":{"datum":-0.13678,"type":"quantitative","scale":{"domain":[0,1],"range":[202,1613]},"axis":null},"x2":{"datum":2.22112},"y":{"datum":1.43393,"type":"quantitative","scale":{"domain":[0,1],"range":[1634,1127]},"axis":null},"y2":{"datum":-0.25049}}},
{"mark":{"type":"point","shape":"circle","size":20164,"filled":false,"color":"black","strokeWidth":3,"opacity":1},"encoding":{"x":{"datum":-0.06733,"type":"quantitative","scale":{"domain":[0,1],"range":[202,1613]},"axis":null},"y":{"datum":1.24458,"type":"quantitative","scale":{"domain":[0,1],"range":[1634,1127]},"axis":null}}},
{"mark":{"type":"text","text":"B1","fontSize":86,"fontWeight":"bold"},"encoding":{"x":{"datum":-0.06733,"type":"quantitative","scale":{"domain":[0,1],"range":[202,1613]},"axis":null},"y":{"datum":1.24458,"type":"quantitative","scale":{"domain":[0,1],"range":[1634,1127]},"axis":null}}},
{"mark":{"type":"text","text":"Cultivo de GBM en 3D expuestos a ae-AOC por 6 h","fontSize":48,"fontWeight":"bold"},"encoding":{"x":{"datum":0.49965,"type":"quantitative","scale":{"domain":[0,1],"range":[202,1613]},"axis":null},"y":{"datum":1.32939,"type":"quantitative","scale":{"domain":[0,1],"range":[1634,1127]},"axis":null}}}
]}
]},
{"resolve":{"scale":{"x":"independent","y":"independent"},"axis":{"x":"independent","y":"independent"}},
"layer":[
{"layer":[
{"data":{"name":"B2"},"mark":{"type":"bar","cornerRadiusEnd":4},"encoding":{
"x":{"field":"g","type":"nominal","sort":null,"scale":{"domain":["100 µM","200 µM","300 µM","500 µM"],"range":[1778,3216],"paddingInner":0.08,"paddingOuter":0.04},"axis":{"orient":"bottom","offset":-1623,"title":null,"labelAngle":0,"labelFontSize":37,"labelFontWeight":"bold","labelPadding":8,"tickSize":13,"tickWidth":5,"domainWidth":5}},
"xOffset":{"field":"s","type":"nominal","sort":null,"scale":{"domain":["Control","MOC","EOC","POC","BOC","IOC","TMZ"],"paddingInner":0.23,"paddingOuter":0.115}},
"y":{"field":"v","type":"quantitative","scale":{"domain":[0,150],"range":[1634,1127]},"axis":{"orient":"left","offset":-1778,"values":[0,50,100,150],"labelFontSize":34,"labelFontWeight":"bold","labelPadding":8,"tickSize":12,"tickWidth":5,"domainWidth":5,"labelFlush":false,"title":"%","titleAngle":0,"titleFontSize":45,"titleFontWeight":"normal","titleX":-124,"titleY":1347,"titleAlign":"center","titleBaseline":"middle"}},
"color":{"field":"s","type":"nominal","scale":{"domain":["Control","MOC","EOC","POC","BOC","IOC","TMZ"],"range":["#000000","#8c8c8c","#cccccc","#505050","#4b4b4b","#8f8f8f","#c9c9c9"]},"legend":null}}},
{"data":{"name":"B2"},"mark":{"type":"rule","strokeWidth":6,"color":"black"},"encoding":{"x":{"field":"g","type":"nominal"},"xOffset":{"field":"s","type":"nominal"},"y":{"field":"lo","type":"quantitative"},"y2":{"field":"hi"}}},
{"data":{"name":"B2"},"mark":{"type":"tick","size":13,"thickness":6,"color":"black"},"encoding":{"x":{"field":"g","type":"nominal"},"xOffset":{"field":"s","type":"nominal"},"y":{"field":"hi","type":"quantitative"}}},
{"data":{"name":"B2"},"mark":{"type":"tick","size":13,"thickness":6,"color":"black"},"encoding":{"x":{"field":"g","type":"nominal"},"xOffset":{"field":"s","type":"nominal"},"y":{"field":"lo","type":"quantitative"}}},
{"data":{"name":"B2br"},"transform":[{"fold":["f","to"],"as":["end","s"]}],"layer":[
{"mark":{"type":"line","color":"black","strokeWidth":6,"strokeCap":"butt"},"encoding":{"x":{"field":"g","type":"nominal"},"xOffset":{"field":"s","type":"nominal"},"y":{"field":"lvl","type":"quantitative"},"detail":[{"field":"g","type":"nominal"},{"field":"lvl","type":"quantitative"}]}},
{"mark":{"type":"rule","color":"black","strokeWidth":6,"yOffset":-16,"y2Offset":16},"encoding":{"x":{"field":"g","type":"nominal"},"xOffset":{"field":"s","type":"nominal"},"y":{"field":"lvl","type":"quantitative"},"y2":{"field":"lvl"}}},
{"transform":[{"filter":{"field":"end","equal":"f"}}],"mark":{"type":"text","align":"left","baseline":"alphabetic","dx":14,"dy":8,"fontSize":40},"encoding":{"x":{"field":"g","type":"nominal"},"xOffset":{"field":"s","type":"nominal"},"y":{"field":"lvl","type":"quantitative"},"text":{"field":"sig"}}}]}
]},
{"data":{"values":[{}]},"layer":[
{"mark":{"type":"point","shape":"circle","size":20164,"filled":false,"color":"black","strokeWidth":3,"opacity":1},"encoding":{"x":{"datum":-0.04798,"type":"quantitative","scale":{"domain":[0,1],"range":[1778,3216]},"axis":null},"y":{"datum":1.23669,"type":"quantitative","scale":{"domain":[0,1],"range":[1634,1127]},"axis":null}}},
{"mark":{"type":"text","text":"B2","fontSize":86,"fontWeight":"bold"},"encoding":{"x":{"datum":-0.04798,"type":"quantitative","scale":{"domain":[0,1],"range":[1778,3216]},"axis":null},"y":{"datum":1.23669,"type":"quantitative","scale":{"domain":[0,1],"range":[1634,1127]},"axis":null}}},
{"mark":{"type":"text","text":"Cultivo de GBM en 3D expuestos a ae-AOC por 12 h","fontSize":48,"fontWeight":"bold"},"encoding":{"x":{"datum":0.50209,"type":"quantitative","scale":{"domain":[0,1],"range":[1778,3216]},"axis":null},"y":{"datum":1.32544,"type":"quantitative","scale":{"domain":[0,1],"range":[1634,1127]},"axis":null}}}
]}
]},
{"resolve":{"scale":{"x":"independent","y":"independent"},"axis":{"x":"independent","y":"independent"}},
"layer":[
{"data":{"name":"C1"},"layer":[
{"mark":{"type":"bar","cornerRadiusEnd":2},"encoding":{
"x":{"field":"c","type":"nominal","sort":null,"scale":{"domain":["MOC","EOC","POC","BOC","IOC","Control"],"range":[220,818],"paddingInner":0.28,"paddingOuter":0.17},"axis":{"orient":"bottom","offset":-842,"title":null,"labelAngle":-90,"labelFontSize":27,"labelFontWeight":"bold","labelPadding":6,"tickSize":8,"tickWidth":3,"domainWidth":3}},
"xOffset":{"field":"k","type":"nominal","sort":null,"scale":{"domain":["Monocapa","3D"],"paddingInner":0.16,"paddingOuter":0}},
"y":{"field":"v","type":"quantitative","scale":{"domain":[0,150],"range":[2415,2020]},"axis":{"orient":"left","offset":-220,"values":[0,50,100,150],"labelFontSize":24,"labelPadding":3,"tickSize":8,"tickWidth":3,"domainWidth":3,"labelFlush":false,"title":"% de Viabilidad celular","titleFontSize":30,"titleFontWeight":"bold","titleX":-86,"titleY":2215,"titleAlign":"center","titleBaseline":"middle"}},
"color":{"field":"k","type":"nominal","scale":{"domain":["Monocapa","3D"],"range":["#cfcfcf","#8c8c8c"]},"legend":null}}},
{"mark":{"type":"rule","strokeWidth":5,"color":"black"},"encoding":{"x":{"field":"c","type":"nominal"},"xOffset":{"field":"k","type":"nominal"},"y":{"field":"lo","type":"quantitative"},"y2":{"field":"hi"}}},
{"transform":[{"filter":"datum.hi > datum.lo"}],"mark":{"type":"tick","size":11,"thickness":5,"color":"black"},"encoding":{"x":{"field":"c","type":"nominal"},"xOffset":{"field":"k","type":"nominal"},"y":{"field":"hi","type":"quantitative"}}},
{"transform":[{"filter":"datum.hi > datum.lo"}],"mark":{"type":"tick","size":11,"thickness":5,"color":"black"},"encoding":{"x":{"field":"c","type":"nominal"},"xOffset":{"field":"k","type":"nominal"},"y":{"field":"lo","type":"quantitative"}}},
{"transform":[{"filter":"datum.sig"}],"mark":{"type":"text","fontSize":30,"baseline":"alphabetic","dy":2},"encoding":{"x":{"field":"c","type":"nominal"},"xOffset":{"field":"k","type":"nominal"},"y":{"field":"hi","type":"quantitative"},"text":{"field":"sig"}}}
]},
{"data":{"values":[{}]},"layer":[
{"mark":{"type":"rect","filled":false,"color":"black","strokeWidth":4},"encoding":{"x":{"datum":-0.33612,"type":"quantitative","scale":{"domain":[0,1],"range":[220,818]},"axis":null},"x2":{"datum":2.6689},"y":{"datum":1.58734,"type":"quantitative","scale":{"domain":[0,1],"range":[2415,2020]},"axis":null},"y2":{"datum":-2.1038}}},
{"mark":{"type":"point","shape":"M0,-1A0.832,1,0,1,1,0,1A0.832,1,0,1,1,0,-1Z","size":22201,"filled":false,"color":"black","strokeWidth":3,"opacity":1},"encoding":{"x":{"datum":-0.10201,"type":"quantitative","scale":{"domain":[0,1],"range":[220,818]},"axis":null},"y":{"datum":1.36456,"type":"quantitative","scale":{"domain":[0,1],"range":[2415,2020]},"axis":null}}},
{"mark":{"type":"text","text":"C1","fontSize":86,"fontWeight":"bold"},"encoding":{"x":{"datum":-0.10201,"type":"quantitative","scale":{"domain":[0,1],"range":[220,818]},"axis":null},"y":{"datum":1.36456,"type":"quantitative","scale":{"domain":[0,1],"range":[2415,2020]},"axis":null}}},
{"mark":{"type":"text","text":["Comparativo Monocapa y 3D","100 µM"],"fontSize":38,"fontWeight":"bold","lineHeight":45},"encoding":{"x":{"datum":0.50502,"type":"quantitative","scale":{"domain":[0,1],"range":[220,818]},"axis":null},"y":{"datum":1.2583,"type":"quantitative","scale":{"domain":[0,1],"range":[2415,2020]},"axis":null}}}
]}
]},
{"resolve":{"scale":{"x":"independent","y":"independent"},"axis":{"x":"independent","y":"independent"}},
"layer":[
{"data":{"name":"C2"},"layer":[
{"mark":{"type":"bar","cornerRadiusEnd":2},"encoding":{
"x":{"field":"c","type":"nominal","sort":null,"scale":{"domain":["MOC","EOC","POC","BOC","IOC","Control"],"range":[940,1538],"paddingInner":0.28,"paddingOuter":0.17},"axis":{"orient":"bottom","offset":-862,"title":null,"labelAngle":-90,"labelFontSize":27,"labelFontWeight":"bold","labelPadding":6,"tickSize":8,"tickWidth":3,"domainWidth":3}},
"xOffset":{"field":"k","type":"nominal","sort":null,"scale":{"domain":["Monocapa","3D"],"paddingInner":0.16,"paddingOuter":0}},
"y":{"field":"v","type":"quantitative","scale":{"domain":[0,150],"range":[2395,2000]},"axis":{"orient":"left","offset":-940,"values":[0,50,100,150],"labelFontSize":24,"labelPadding":3,"tickSize":8,"tickWidth":3,"domainWidth":3,"labelFlush":false,"title":null}},
"color":{"field":"k","type":"nominal","scale":{"domain":["Monocapa","3D"],"range":["#cfcfcf","#8c8c8c"]},"legend":null}}},
{"mark":{"type":"rule","strokeWidth":5,"color":"black"},"encoding":{"x":{"field":"c","type":"nominal"},"xOffset":{"field":"k","type":"nominal"},"y":{"field":"lo","type":"quantitative"},"y2":{"field":"hi"}}},
{"transform":[{"filter":"datum.hi > datum.lo"}],"mark":{"type":"tick","size":11,"thickness":5,"color":"black"},"encoding":{"x":{"field":"c","type":"nominal"},"xOffset":{"field":"k","type":"nominal"},"y":{"field":"hi","type":"quantitative"}}},
{"transform":[{"filter":"datum.hi > datum.lo"}],"mark":{"type":"tick","size":11,"thickness":5,"color":"black"},"encoding":{"x":{"field":"c","type":"nominal"},"xOffset":{"field":"k","type":"nominal"},"y":{"field":"lo","type":"quantitative"}}},
{"transform":[{"filter":"datum.sig"}],"mark":{"type":"text","fontSize":30,"baseline":"alphabetic","dy":2},"encoding":{"x":{"field":"c","type":"nominal"},"xOffset":{"field":"k","type":"nominal"},"y":{"field":"hi","type":"quantitative"},"text":{"field":"sig"}}}
]},
{"data":{"values":[{}]},"layer":[
{"mark":{"type":"point","shape":"M0,-1A0.832,1,0,1,1,0,1A0.832,1,0,1,1,0,-1Z","size":22201,"filled":false,"color":"black","strokeWidth":3,"opacity":1},"encoding":{"x":{"datum":-0.08696,"type":"quantitative","scale":{"domain":[0,1],"range":[940,1538]},"axis":null},"y":{"datum":1.32658,"type":"quantitative","scale":{"domain":[0,1],"range":[2395,2000]},"axis":null}}},
{"mark":{"type":"text","text":"C2","fontSize":86,"fontWeight":"bold"},"encoding":{"x":{"datum":-0.08696,"type":"quantitative","scale":{"domain":[0,1],"range":[940,1538]},"axis":null},"y":{"datum":1.32658,"type":"quantitative","scale":{"domain":[0,1],"range":[2395,2000]},"axis":null}}},
{"mark":{"type":"text","text":["Comparativo Monocapa y 3D","200 µM"],"fontSize":38,"fontWeight":"bold","lineHeight":45},"encoding":{"x":{"datum":0.50502,"type":"quantitative","scale":{"domain":[0,1],"range":[940,1538]},"axis":null},"y":{"datum":1.2557,"type":"quantitative","scale":{"domain":[0,1],"range":[2395,2000]},"axis":null}}}
]}
]},
{"resolve":{"scale":{"x":"independent","y":"independent"},"axis":{"x":"independent","y":"independent"}},
"layer":[
{"data":{"name":"C3"},"layer":[
{"mark":{"type":"bar","cornerRadiusEnd":2},"encoding":{
"x":{"field":"c","type":"nominal","sort":null,"scale":{"domain":["MOC","EOC","POC","BOC","IOC","DMSO","Control"],"range":[220,818],"paddingInner":0.3,"paddingOuter":0.2},"axis":{"orient":"bottom","offset":-210,"title":null,"labelAngle":-90,"labelFontSize":27,"labelFontWeight":"bold","labelPadding":6,"tickSize":8,"tickWidth":3,"domainWidth":3}},
"xOffset":{"field":"k","type":"nominal","sort":null,"scale":{"domain":["Monocapa","3D"],"paddingInner":0.1,"paddingOuter":0}},
"y":{"field":"v","type":"quantitative","scale":{"domain":[0,150],"range":[3047,2652]},"axis":{"orient":"left","offset":-220,"values":[0,50,100,150],"labelFontSize":24,"labelPadding":3,"tickSize":8,"tickWidth":3,"domainWidth":3,"labelFlush":false,"title":"% de Viabilidad celular","titleFontSize":30,"titleFontWeight":"bold","titleX":-86,"titleY":2893,"titleAlign":"center","titleBaseline":"middle"}},
"color":{"field":"k","type":"nominal","scale":{"domain":["Monocapa","3D"],"range":["#cfcfcf","#8c8c8c"]},"legend":null}}},
{"mark":{"type":"rule","strokeWidth":5,"color":"black"},"encoding":{"x":{"field":"c","type":"nominal"},"xOffset":{"field":"k","type":"nominal"},"y":{"field":"lo","type":"quantitative"},"y2":{"field":"hi"}}},
{"transform":[{"filter":"datum.hi > datum.lo"}],"mark":{"type":"tick","size":11,"thickness":5,"color":"black"},"encoding":{"x":{"field":"c","type":"nominal"},"xOffset":{"field":"k","type":"nominal"},"y":{"field":"hi","type":"quantitative"}}},
{"transform":[{"filter":"datum.hi > datum.lo"}],"mark":{"type":"tick","size":11,"thickness":5,"color":"black"},"encoding":{"x":{"field":"c","type":"nominal"},"xOffset":{"field":"k","type":"nominal"},"y":{"field":"lo","type":"quantitative"}}},
{"transform":[{"filter":"datum.sig"}],"mark":{"type":"text","fontSize":30,"baseline":"alphabetic","dy":2},"encoding":{"x":{"field":"c","type":"nominal"},"xOffset":{"field":"k","type":"nominal"},"y":{"field":"hi","type":"quantitative"},"text":{"field":"sig"}}}
]},
{"data":{"values":[{}]},"layer":[
{"mark":{"type":"point","shape":"M0,-1A0.832,1,0,1,1,0,1A0.832,1,0,1,1,0,-1Z","size":22201,"filled":false,"color":"black","strokeWidth":3,"opacity":1},"encoding":{"x":{"datum":-0.07692,"type":"quantitative","scale":{"domain":[0,1],"range":[220,818]},"axis":null},"y":{"datum":1.23797,"type":"quantitative","scale":{"domain":[0,1],"range":[3047,2652]},"axis":null}}},
{"mark":{"type":"text","text":"C3","fontSize":86,"fontWeight":"bold"},"encoding":{"x":{"datum":-0.07692,"type":"quantitative","scale":{"domain":[0,1],"range":[220,818]},"axis":null},"y":{"datum":1.23797,"type":"quantitative","scale":{"domain":[0,1],"range":[3047,2652]},"axis":null}}},
{"mark":{"type":"text","text":["Comparativo Monocapa y 3D","300 µM"],"fontSize":38,"fontWeight":"bold","lineHeight":45},"encoding":{"x":{"datum":0.50502,"type":"quantitative","scale":{"domain":[0,1],"range":[220,818]},"axis":null},"y":{"datum":1.2646,"type":"quantitative","scale":{"domain":[0,1],"range":[3047,2652]},"axis":null}}}
]}
]},
{"resolve":{"scale":{"x":"independent","y":"independent"},"axis":{"x":"independent","y":"independent"}},
"layer":[
{"data":{"name":"C4"},"layer":[
{"mark":{"type":"bar","cornerRadiusEnd":2},"encoding":{
"x":{"field":"c","type":"nominal","sort":null,"scale":{"domain":["MOC","EOC","POC","BOC","IOC","DMSO","Control"],"range":[940,1538],"paddingInner":0.3,"paddingOuter":0.2},"axis":{"orient":"bottom","offset":-189,"title":null,"labelAngle":-90,"labelFontSize":27,"labelFontWeight":"bold","labelPadding":6,"tickSize":8,"tickWidth":3,"domainWidth":3}},
"xOffset":{"field":"k","type":"nominal","sort":null,"scale":{"domain":["Monocapa","3D"],"paddingInner":0.1,"paddingOuter":0}},
"y":{"field":"v","type":"quantitative","scale":{"domain":[0,150],"range":[3068,2673]},"axis":{"orient":"left","offset":-940,"values":[0,50,100,150],"labelFontSize":24,"labelPadding":3,"tickSize":8,"tickWidth":3,"domainWidth":3,"labelFlush":false,"title":null}},
"color":{"field":"k","type":"nominal","scale":{"domain":["Monocapa","3D"],"range":["#cfcfcf","#8c8c8c"]},"legend":{"orient":"none","legendX":1563,"legendY":2673,"title":null,"padding":15,"symbolType":"M-1,-0.533L1,-0.533L1,0.533L-1,0.533Z","symbolSize":2025,"symbolStrokeWidth":0,"symbolOpacity":1,"labelFontSize":32,"labelOffset":19,"clipHeight":30,"rowPadding":18,"labelLimit":0}}}},
{"mark":{"type":"rule","strokeWidth":5,"color":"black"},"encoding":{"x":{"field":"c","type":"nominal"},"xOffset":{"field":"k","type":"nominal"},"y":{"field":"lo","type":"quantitative"},"y2":{"field":"hi"}}},
{"transform":[{"filter":"datum.hi > datum.lo"}],"mark":{"type":"tick","size":11,"thickness":5,"color":"black"},"encoding":{"x":{"field":"c","type":"nominal"},"xOffset":{"field":"k","type":"nominal"},"y":{"field":"hi","type":"quantitative"}}},
{"transform":[{"filter":"datum.hi > datum.lo"}],"mark":{"type":"tick","size":11,"thickness":5,"color":"black"},"encoding":{"x":{"field":"c","type":"nominal"},"xOffset":{"field":"k","type":"nominal"},"y":{"field":"lo","type":"quantitative"}}},
{"transform":[{"filter":"datum.sig"}],"mark":{"type":"text","fontSize":30,"baseline":"alphabetic","dy":2},"encoding":{"x":{"field":"c","type":"nominal"},"xOffset":{"field":"k","type":"nominal"},"y":{"field":"hi","type":"quantitative"},"text":{"field":"sig"}}}
]},
{"data":{"values":[{}]},"layer":[
{"mark":{"type":"point","shape":"M0,-1A0.832,1,0,1,1,0,1A0.832,1,0,1,1,0,-1Z","size":22201,"filled":false,"color":"black","strokeWidth":3,"opacity":1},"encoding":{"x":{"datum":-0.07692,"type":"quantitative","scale":{"domain":[0,1],"range":[940,1538]},"axis":null},"y":{"datum":1.27848,"type":"quantitative","scale":{"domain":[0,1],"range":[3068,2673]},"axis":null}}},
{"mark":{"type":"text","text":"C4","fontSize":86,"fontWeight":"bold"},"encoding":{"x":{"datum":-0.07692,"type":"quantitative","scale":{"domain":[0,1],"range":[940,1538]},"axis":null},"y":{"datum":1.27848,"type":"quantitative","scale":{"domain":[0,1],"range":[3068,2673]},"axis":null}}},
{"mark":{"type":"text","text":["Comparativo Monocapa y 3D","500 µM"],"fontSize":38,"fontWeight":"bold","lineHeight":45},"encoding":{"x":{"datum":0.50502,"type":"quantitative","scale":{"domain":[0,1],"range":[940,1538]},"axis":null},"y":{"datum":1.257,"type":"quantitative","scale":{"domain":[0,1],"range":[3068,2673]},"axis":null}}}
]}
]},
{"resolve":{"scale":{"x":"independent","y":"independent"},"axis":{"x":"independent","y":"independent"}},
"layer":[
{"data":{"name":"D"},"layer":[
{"mark":{"type":"bar","strokeWidth":6},"encoding":{
"x":{"field":"c","type":"nominal","sort":null,"scale":{"domain":["MOC (300 )","EOC (300)","POC (300)","BOC (200)","IOC (200)","TMZ (600)","MOC (300) TMZ (600)","EOC (300) TMZ (600)","POC (300) TMZ (600)","BOC (200) TMZ (600)","IOC (200) TMZ (600)","Control"],"range":[2193,3116],"paddingInner":0.22,"paddingOuter":0.11},"axis":{"orient":"bottom","offset":-678,"title":"Moléculas de estudio y ae-AOC-TMZ (µM)","titleFontSize":50,"titleFontWeight":"normal","titleX":2654,"titleY":501,"titleAlign":"center","titleBaseline":"middle","labelAngle":-90,"labelFontSize":45,"labelFontWeight":"bold","labelLimit":0,"labelPadding":6,"tickSize":10,"tickWidth":5,"domainWidth":5}},
"y":{"field":"v","type":"quantitative","scale":{"domain":[0,150],"range":[2579,1962]},"axis":{"orient":"left","offset":-2193,"values":[0,50,100,150],"labelFontSize":44,"labelFontWeight":"bold","labelPadding":5,"tickSize":13,"tickWidth":5,"domainWidth":5,"labelFlush":false,"title":"% de Viabilidad celular","titleFontSize":47,"titleFontWeight":"bold","titleX":-145,"titleY":2270,"titleAlign":"center","titleBaseline":"middle"}},
"color":{"field":"c","type":"nominal","sort":null,"scale":{"domain":["MOC (300 )","EOC (300)","POC (300)","BOC (200)","IOC (200)","TMZ (600)","MOC (300) TMZ (600)","EOC (300) TMZ (600)","POC (300) TMZ (600)","BOC (200) TMZ (600)","IOC (200) TMZ (600)","Control"],"range":["#000000","#8c8c8c","#6e6e6e","#cccccc","#4d4d4d","#cccccc","#0a0a0a","#8c8c8c","#6e6e6e","#cccccc","#4d4d4d","#ffffff"]},"legend":null},
"stroke":{"condition":{"test":"datum.c === 'Control'","value":"black"},"value":null}}},
{"mark":{"type":"rule","strokeWidth":6,"color":"black"},"encoding":{"x":{"field":"c","type":"nominal"},"y":{"field":"v","type":"quantitative"},"y2":{"field":"hi"}}},
{"mark":{"type":"tick","size":30,"thickness":7,"color":"black"},"encoding":{"x":{"field":"c","type":"nominal"},"y":{"field":"hi","type":"quantitative"}}},
{"mark":{"type":"text","fontSize":52,"baseline":"bottom","dy":11},"encoding":{"x":{"field":"c","type":"nominal"},"y":{"field":"hi","type":"quantitative"},"text":{"field":"sig"}}},
{"transform":[{"filter":"datum.sig2"}],"mark":{"type":"text","fontSize":52,"baseline":"bottom","dy":-16},"encoding":{"x":{"field":"c","type":"nominal"},"y":{"field":"hi","type":"quantitative"},"text":{"field":"sig2"}}}
]},
{"data":{"values":[{}]},"layer":[
{"mark":{"type":"rect","filled":false,"color":"black","strokeWidth":4},"encoding":{"x":{"datum":-0.3857,"type":"quantitative","scale":{"domain":[0,1],"range":[2193,3116]},"axis":null},"x2":{"datum":1.23835},"y":{"datum":1.28201,"type":"quantitative","scale":{"domain":[0,1],"range":[2579,1962]},"axis":null},"y2":{"datum":-1.08104}}},
{"mark":{"type":"point","shape":"circle","size":19600,"filled":false,"color":"black","strokeWidth":3,"opacity":1},"encoding":{"x":{"datum":-0.27411,"type":"quantitative","scale":{"domain":[0,1],"range":[2193,3116]},"axis":null},"y":{"datum":1.14749,"type":"quantitative","scale":{"domain":[0,1],"range":[2579,1962]},"axis":null}}},
{"mark":{"type":"text","text":"D","fontSize":86,"fontWeight":"bold"},"encoding":{"x":{"datum":-0.27411,"type":"quantitative","scale":{"domain":[0,1],"range":[2193,3116]},"axis":null},"y":{"datum":1.14749,"type":"quantitative","scale":{"domain":[0,1],"range":[2579,1962]},"axis":null}}},
{"mark":{"type":"text","text":"Efecto en GBM por mezcla de ae-AOC y TMZ","fontSize":59,"fontWeight":"bold"},"encoding":{"x":{"datum":0.50054,"type":"quantitative","scale":{"domain":[0,1],"range":[2193,3116]},"axis":null},"y":{"datum":1.14911,"type":"quantitative","scale":{"domain":[0,1],"range":[2579,1962]},"axis":null}}}
]}
]}
]
}
